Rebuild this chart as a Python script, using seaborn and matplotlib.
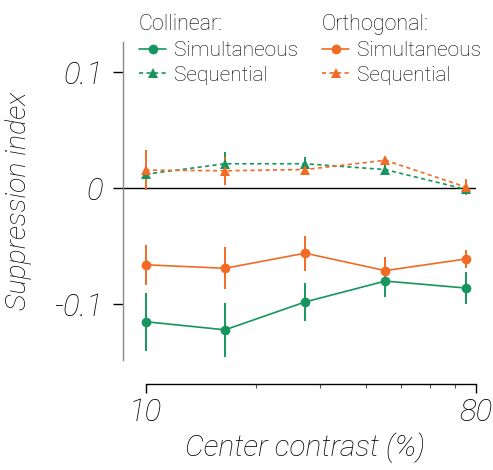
import matplotlib
matplotlib.use("Agg")
import matplotlib.pyplot as plt
import seaborn as sns
import pandas as pd
import numpy as np

# ---- data ----
contrast = [10, 16.5, 27.3, 45.2, 75]
col_sim = [-0.115, -0.122, -0.098, -0.080, -0.086]
col_sim_err = [0.025, 0.023, 0.016, 0.014, 0.0135]
col_seq = [0.012, 0.021, 0.021, 0.016, -0.001]
col_seq_err = [0.0, 0.010, 0.006, 0.005, 0.0]
ort_sim = [-0.066, -0.069, -0.056, -0.071, -0.061]
ort_sim_err = [0.017, 0.018, 0.015, 0.012, 0.008]
ort_seq = [0.0155, 0.015, 0.016, 0.024, 0.001]
ort_seq_err = [0.017, 0.012, 0.005, 0.003, 0.007]

GREEN = "#16965f"
ORANGE = "#f26a24"
WEIGHT = "light"

sns.set_theme(style="white")
plt.rcParams["font.family"] = ["Roboto", "Liberation Sans", "DejaVu Sans"]
plt.rcParams["font.weight"] = WEIGHT
for k in ["text.color", "axes.labelcolor", "xtick.color", "ytick.color"]:
    plt.rcParams[k] = "black"

fig = plt.figure(figsize=(4.93, 4.70), dpi=100)
ax = fig.add_axes([0.2495, 0.234, 0.716, 0.677])

series = [
    ("Collinear", "Simultaneous", col_sim, col_sim_err, GREEN, "o", "-"),
    ("Collinear", "Sequential", col_seq, col_seq_err, GREEN, "^", (0, (2.5, 2))),
    ("Orthogonal", "Simultaneous", ort_sim, ort_sim_err, ORANGE, "o", "-"),
    ("Orthogonal", "Sequential", ort_seq, ort_seq_err, ORANGE, "^", (0, (2.5, 2))),
]

handles = {}
for group, timing, vals, errs, color, marker, ls in series:
    df = pd.DataFrame({"x": contrast, "y": vals})
    ax.vlines(df["x"], df["y"] - np.array(errs), df["y"] + np.array(errs),
              color=color, lw=1.4, zorder=2, clip_on=False)
    sns.lineplot(data=df, x="x", y="y", ax=ax, color=color, marker=marker,
                 markersize=7 if marker == "o" else 7.5, markeredgewidth=0,
                 linestyle=ls, lw=1.2, zorder=3, clip_on=False)
    handles[(group, timing)] = ax.lines[-1]

ax.axhline(0, color="black", lw=1.0, zorder=1)

ax.set_xscale("log")
ax.set_xlim(8.68, 80)
ax.set_ylim(-0.148, 0.126)
ax.set_xticks([10, 80])
ax.set_xticklabels(["10", "80"])
ax.set_xticks([20, 30, 40, 50, 60, 70], minor=True)
ax.xaxis.set_minor_formatter(matplotlib.ticker.NullFormatter())
ax.set_yticks([-0.1, 0, 0.1])
ax.set_yticklabels(["-0.1", "0", "0.1"])

for s in ["top", "right"]:
    ax.spines[s].set_visible(False)
ax.spines["left"].set_color("#888888")
ax.spines["left"].set_linewidth(1.0)
ax.spines["bottom"].set_position(("outward", 17.5))
ax.spines["bottom"].set_bounds(10, 80)
ax.spines["bottom"].set_color("black")
ax.spines["bottom"].set_linewidth(1.0)

ax.tick_params(axis="y", which="major", left=True, length=7.2, width=1.0,
               color="black", pad=7, labelsize=22.5)
ax.tick_params(axis="x", which="major", bottom=True, length=6.5, width=1.0,
               color="black", pad=3, labelsize=22.5)
ax.tick_params(axis="x", which="minor", bottom=True, length=3, width=0.8,
               color="#555555")
for lab in ax.get_xticklabels() + ax.get_yticklabels():
    lab.set_style("italic")
    lab.set_fontweight(WEIGHT)

ax.set_xlabel("Center contrast (%)", fontsize=21.5, style="italic",
              fontweight=WEIGHT, labelpad=0)
ax.set_ylabel("Suppression index", fontsize=20.5, style="italic",
              fontweight=WEIGHT, labelpad=16)
ax.xaxis.set_label_coords(0.515, -0.228)

legkw = dict(prop={"size": 15, "weight": WEIGHT},
             title_fontproperties={"size": 15.5, "weight": WEIGHT},
             frameon=False, handlelength=1.3, handletextpad=0.38,
             labelspacing=0.28, borderaxespad=0, borderpad=0)
leg1 = ax.legend([handles[("Collinear", "Simultaneous")], handles[("Collinear", "Sequential")]],
                 ["Simultaneous", "Sequential"], title="Collinear:",
                 loc="upper left", bbox_to_anchor=(139 / 493, 1 - 14 / 470),
                 bbox_transform=fig.transFigure, **legkw)
leg1._legend_box.align = "left"
ax.add_artist(leg1)
leg2 = ax.legend([handles[("Orthogonal", "Simultaneous")], handles[("Orthogonal", "Sequential")]],
                 ["Simultaneous", "Sequential"], title="Orthogonal:",
                 loc="upper left", bbox_to_anchor=(322 / 493, 1 - 14 / 470),
                 bbox_transform=fig.transFigure, **legkw)
leg2._legend_box.align = "left"

fig.savefig("out.png", dpi=100)
